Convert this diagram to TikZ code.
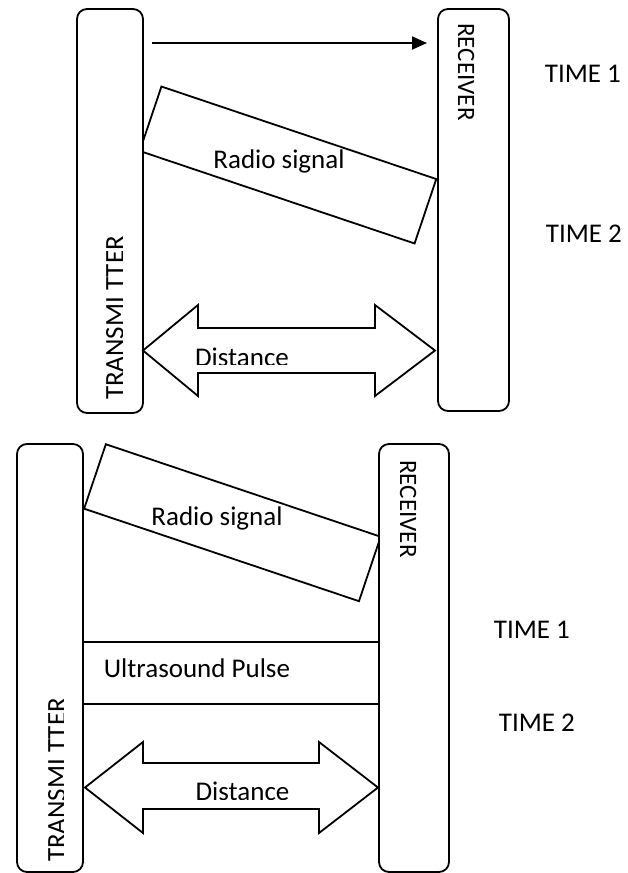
\documentclass[tikz,border=0pt]{standalone}
\usepackage{fontspec}
\setmainfont{Carlito}
\usetikzlibrary{arrows.meta}

\begin{document}
\begin{tikzpicture}[x=1pt,y=-1pt,line width=1.8pt,
        every node/.style={inner sep=0pt,font=\fontsize{27}{32}\selectfont},
        station/.style={draw,fill=white,rounded corners=10pt},
        >={Triangle[length=15pt,width=13pt]}]
   \useasboundingbox (0,0) rectangle (627,873);
   % first time step
   \node[draw,minimum width=290,minimum height=68,rotate=-18.6](sig1) at (288,165){};
   \node[station,minimum width=66,minimum height=404](tx1) at (110,211){};
   \node[station,minimum width=71,minimum height=402](rx1) at (473.5,210){};
   \coordinate (a1) at (152,43);
   \coordinate (a2) at (427,43);
   \draw[->](a1)--(a2);
   \node[anchor=base](radio1) at (279,168){Radio signal};
   \draw[line join=miter](143,350.5)--(198,305)--(198,328)--(375,328)--(375,305)--(435,350.5)
        --(375,396)--(375,373)--(198,373)--(198,396)--cycle;
   \begin{scope}
     \clip (150,330) rectangle (350,364.5);
     \node[anchor=base](dist1) at (242,366){Distance};
   \end{scope}
   \begin{scope}
     \clip (90,220) rectangle (122,420);
     \node[rotate=90,anchor=base](txt1) at (123.5,318){TRANSMI TTER};
   \end{scope}
   \node[rotate=-90,anchor=base,font=\fontsize{25}{30}\selectfont](rxt1) at (458,72){RECEIVER};
   \node[anchor=base west](t11) at (544,82){TIME 1};
   \node[anchor=base west](t12) at (545,242){TIME 2};
   % second time step
   \node[draw,minimum width=290,minimum height=68,rotate=-18.6](sig2) at (232.4,522.7){};
   \node[station,minimum width=66,minimum height=428](tx2) at (50,658){};
   \node[station,minimum width=70,minimum height=428](rx2) at (414,658){};
   \node[anchor=base](radio2) at (217,525){Radio signal};
   \coordinate (u1) at (0,642);
   \coordinate (u2) at (0,704);
   \draw(tx2.east |- u1)--(rx2.west |- u1);
   \draw(tx2.east |- u2)--(rx2.west |- u2);
   \node[anchor=base west](pulse) at (103,677){Ultrasound Pulse};
   \draw[line join=miter](85,787.5)--(143,742)--(143,763)--(319,763)--(319,742)--(378,787.5)
        --(319,833)--(319,809)--(143,809)--(143,833)--cycle;
   \begin{scope}
     \clip (150,765) rectangle (350,799);
     \node[anchor=base](dist2) at (242.5,800.5){Distance};
   \end{scope}
   \begin{scope}
     \clip (30,680) rectangle (63.5,873);
     \node[rotate=90,anchor=base](txt2) at (65.5,780){TRANSMI TTER};
   \end{scope}
   \node[rotate=-90,anchor=base,font=\fontsize{25}{30}\selectfont](rxt2) at (400,509){RECEIVER};
   \node[anchor=base west](t21) at (493,638){TIME 1};
   \node[anchor=base west](t22) at (498,731){TIME 2};
\end{tikzpicture}
\end{document}
